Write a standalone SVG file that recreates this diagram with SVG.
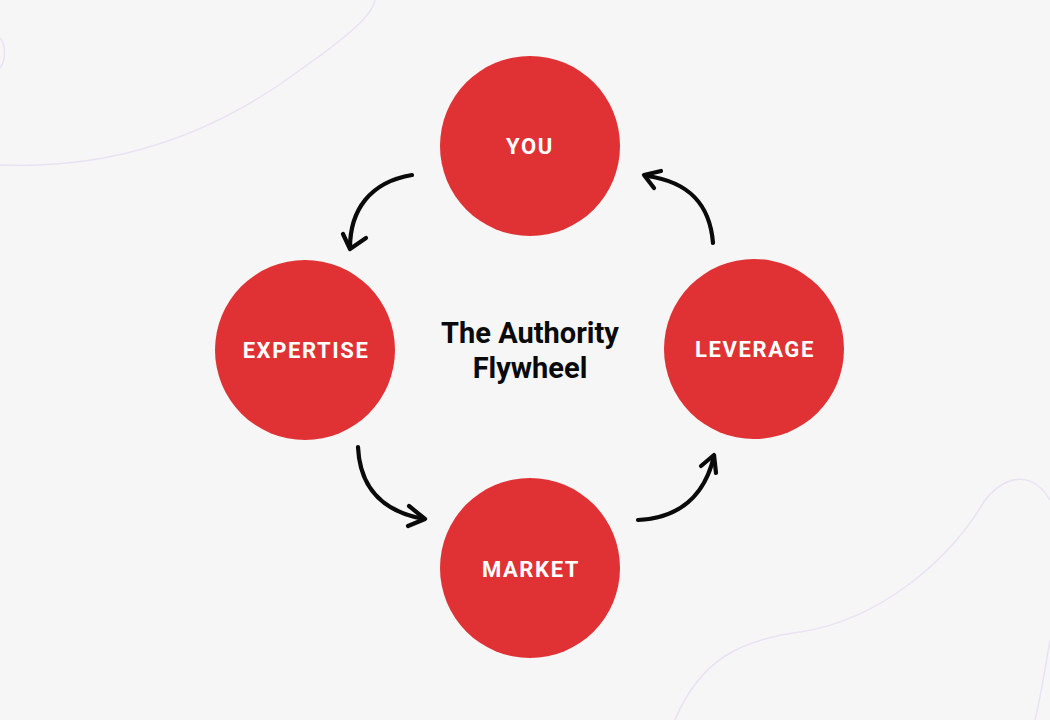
<svg xmlns="http://www.w3.org/2000/svg" width="1050" height="720" viewBox="0 0 1050 720">
<style>
.node{fill:#E03234}
.lbl{font-family:Roboto,"Liberation Sans",sans-serif;font-weight:700;font-size:22px;fill:#fff;letter-spacing:1.6px;text-anchor:middle}
.title{font-family:Roboto,"Liberation Sans",sans-serif;font-weight:700;font-size:29px;fill:#0a0a0a;text-anchor:middle}
.arr{fill:none;stroke:#0a0a0a;stroke-width:4.2;stroke-linecap:round;stroke-linejoin:round}
.deco{fill:none;stroke:#E9E2F3;stroke-width:1.5}
</style>
<rect width="1050" height="720" fill="#F6F6F7"/>
<g id="decor">
<path class="deco" d="M0,165 C120,170 220,130 300,70 C350,35 372,15 375,0"/>
<path class="deco" d="M0,38 C6,45 6,60 0,68"/>
<path class="deco" d="M675,720 C700,660 740,640 800,632 C880,620 950,560 985,500 C1010,470 1035,475 1050,500"/>
<path class="deco" d="M1050,640 C1045,670 1040,700 1035,720"/>
</g>
<g id="connectors">
<path class="arr" d="M412,175 C370,182 350,210 350,248"/>
<path class="arr" d="M343,234 L350,249 L366,238"/>
<path class="arr" d="M713,243 C710,205 690,182 647,176"/>
<path class="arr" d="M654,188 L644,175 L661,171"/>
<path class="arr" d="M358,447 C360,490 385,512 424,519"/>
<path class="arr" d="M409,506 L425,519 L408,526"/>
<path class="arr" d="M638,520 C680,518 705,495 714,456"/>
<path class="arr" d="M701,466 L714,455 L716,473"/>
</g>
<g id="node-you"><circle class="node" cx="530" cy="146" r="90"/><text class="lbl" x="530" y="154">YOU</text></g>
<g id="node-expertise"><circle class="node" cx="305" cy="350" r="90"/><text class="lbl" x="306" y="358">EXPERTISE</text></g>
<g id="node-leverage"><circle class="node" cx="754" cy="349" r="90"/><text class="lbl" x="755" y="357">LEVERAGE</text></g>
<g id="node-market"><circle class="node" cx="530" cy="568" r="90"/><text class="lbl" x="531" y="577">MARKET</text></g>
<g id="title"><text class="title" x="530" y="343">The Authority</text><text class="title" x="530" y="378">Flywheel</text></g>
</svg>
